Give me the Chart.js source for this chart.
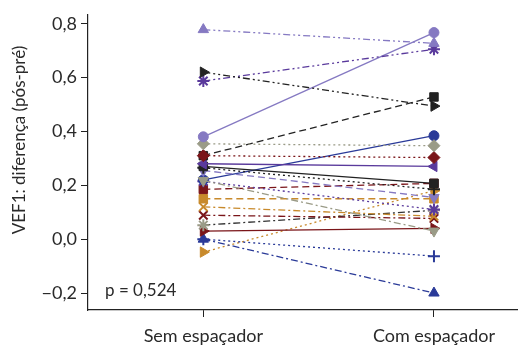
<!DOCTYPE html>
<html>
<head>
<meta charset="utf-8">
<script src="https://cdn.jsdelivr.net/npm/chart.js@4"></script>
<style>
  html, body { margin: 0; padding: 0; background: #fff; }
  #chart { display: block; }
</style>
</head>
<body>
<canvas id="chart" width="525" height="347"></canvas>
<script>
// Paired values: before (Sem espaçador) and after (Com espaçador)
const categories = ['Sem espaçador', 'Com espaçador'];
const semValues = [0.778, 0.62, 0.587, 0.38, 0.354, 0.31, 0.31, 0.28, 0.27, 0.265, 0.255, 0.218, 0.22, 0.215, 0.185, 0.15, 0.12, 0.089, 0.052, 0.03, 0.0, 0.0, -0.048];
const comValues = [0.727, 0.494, 0.705, 0.767, 0.347, 0.303, 0.528, 0.27, 0.207, 0.185, 0.155, 0.03, 0.384, 0.11, 0.207, 0.15, 0.085, 0.077, 0.107, 0.04, -0.2, -0.063, 0.18];
const yTicks = [-0.2, 0, 0.2, 0.4, 0.6, 0.8];

const C = {
  lav: '#8579c2', blk: '#222222', pur: '#5a3a9c', gry: '#9a9b87',
  red: '#7a1519', blu: '#2a3a98', org: '#c88a2c'
};
const DASH = {
  solid: [], dash: [7, 4], dot: [2, 3], dd: [7, 3, 2, 3], ddd: [7, 3, 2, 3, 2, 3]
};
// one style entry per series: colour, marker, rotation, dash
const styles = [
  [C.lav, 'triangle', 0, 'ddd'],
  [C.blk, 'triangle', 90, 'ddd'],
  [C.pur, 'star', 0, 'ddd'],
  [C.lav, 'circle', 0, 'solid'],
  [C.gry, 'rectRot', 0, 'dot'],
  [C.red, 'rectRot', 0, 'dot'],
  [C.blk, 'rect', 0, 'dash'],
  [C.pur, 'triangle', 270, 'solid'],
  [C.blk, 'rect', 0, 'solid'],
  [C.blk, 'cross', 0, 'dot'],
  [C.lav, 'triangle', 180, 'dash'],
  [C.gry, 'triangle', 180, 'dd'],
  [C.blu, 'circle', 0, 'solid'],
  [C.pur, 'star', 0, 'dot'],
  [C.red, 'rect', 0, 'dash'],
  [C.org, 'rect', 0, 'dash'],
  [C.org, 'crossRot', 0, 'dd'],
  [C.red, 'crossRot', 0, 'dd'],
  [C.gry, 'star', 0, 'dd'],
  [C.red, 'triangle', 90, 'solid'],
  [C.blu, 'triangle', 0, 'dd'],
  [C.blu, 'cross', 0, 'dot'],
  [C.org, 'triangle', 90, 'dot']
];

const datasets = semValues.map((v, i) => {
  const [color, marker, rot, dash] = styles[i];
  const lineColor = (i === 18) ? '#333' : color;
  return {
    data: [{ x: 0, y: v }, { x: 1, y: comValues[i] }],
    borderColor: lineColor,
    backgroundColor: color,
    pointBorderColor: color,
    pointBackgroundColor: color,
    pointStyle: marker,
    pointRotation: rot,
    pointRadius: marker === 'circle' ? 5 : 6,
    pointBorderWidth: (marker === 'cross' || marker === 'crossRot' || marker === 'star') ? 2 : 1,
    borderWidth: 1.3,
    borderDash: DASH[dash],
    tension: 0
  };
});

const font = 'Lato, "Open Sans", sans-serif';
const textColor = '#2a2a2a';

// p-value annotation and y axis title
const labels = {
  id: 'labels',
  afterDraw(chart) {
    const ctx = chart.ctx;
    ctx.save();
    ctx.fillStyle = textColor;
    ctx.font = '17px ' + font;
    ctx.textBaseline = 'alphabetic';
    ctx.fillText('p = 0,524', 105, 296);
    ctx.translate(20, 140);
    ctx.rotate(-Math.PI / 2);
    ctx.textAlign = 'center';
    ctx.textBaseline = 'middle';
    ctx.fillText('VEF1: diferença (pós-pré)', 0, 0);
    ctx.restore();
  }
};

new Chart(document.getElementById('chart'), {
  type: 'line',
  data: { datasets },
  options: {
    responsive: false,
    animation: false,
    layout: { padding: { top: 13, right: 2, left: 0, bottom: 0 } },
    plugins: { legend: { display: false }, tooltip: { enabled: false } },
    scales: {
      x: {
        type: 'linear',
        min: -0.5,
        max: 1.36,
        afterBuildTicks: s => { s.ticks = [{ value: 0 }, { value: 1 }]; },
        afterFit: s => { s.height = 37; },
        ticks: {
          callback: v => categories[v],
          color: textColor,
          font: { family: font, size: 18 },
          padding: 8
        },
        grid: { drawOnChartArea: false, drawTicks: true, tickLength: 7, color: '#222' },
        border: { display: true, color: '#222', width: 1.2 }
      },
      y: {
        min: -0.263,
        max: 0.833,
        afterBuildTicks: s => { s.ticks = yTicks.map(v => ({ value: v })); },
        afterFit: s => { s.width = 88; },
        ticks: {
          callback: v => (v < 0 ? '\u2212' : '') + Math.abs(v).toFixed(1).replace('.', ','),
          color: textColor,
          font: { family: font, size: 18 },
          padding: 4
        },
        grid: { drawOnChartArea: false, drawTicks: true, tickLength: 7, color: '#222' },
        border: { display: true, color: '#222', width: 1.2 }
      }
    }
  },
  plugins: [labels]
});
</script>
</body>
</html>
